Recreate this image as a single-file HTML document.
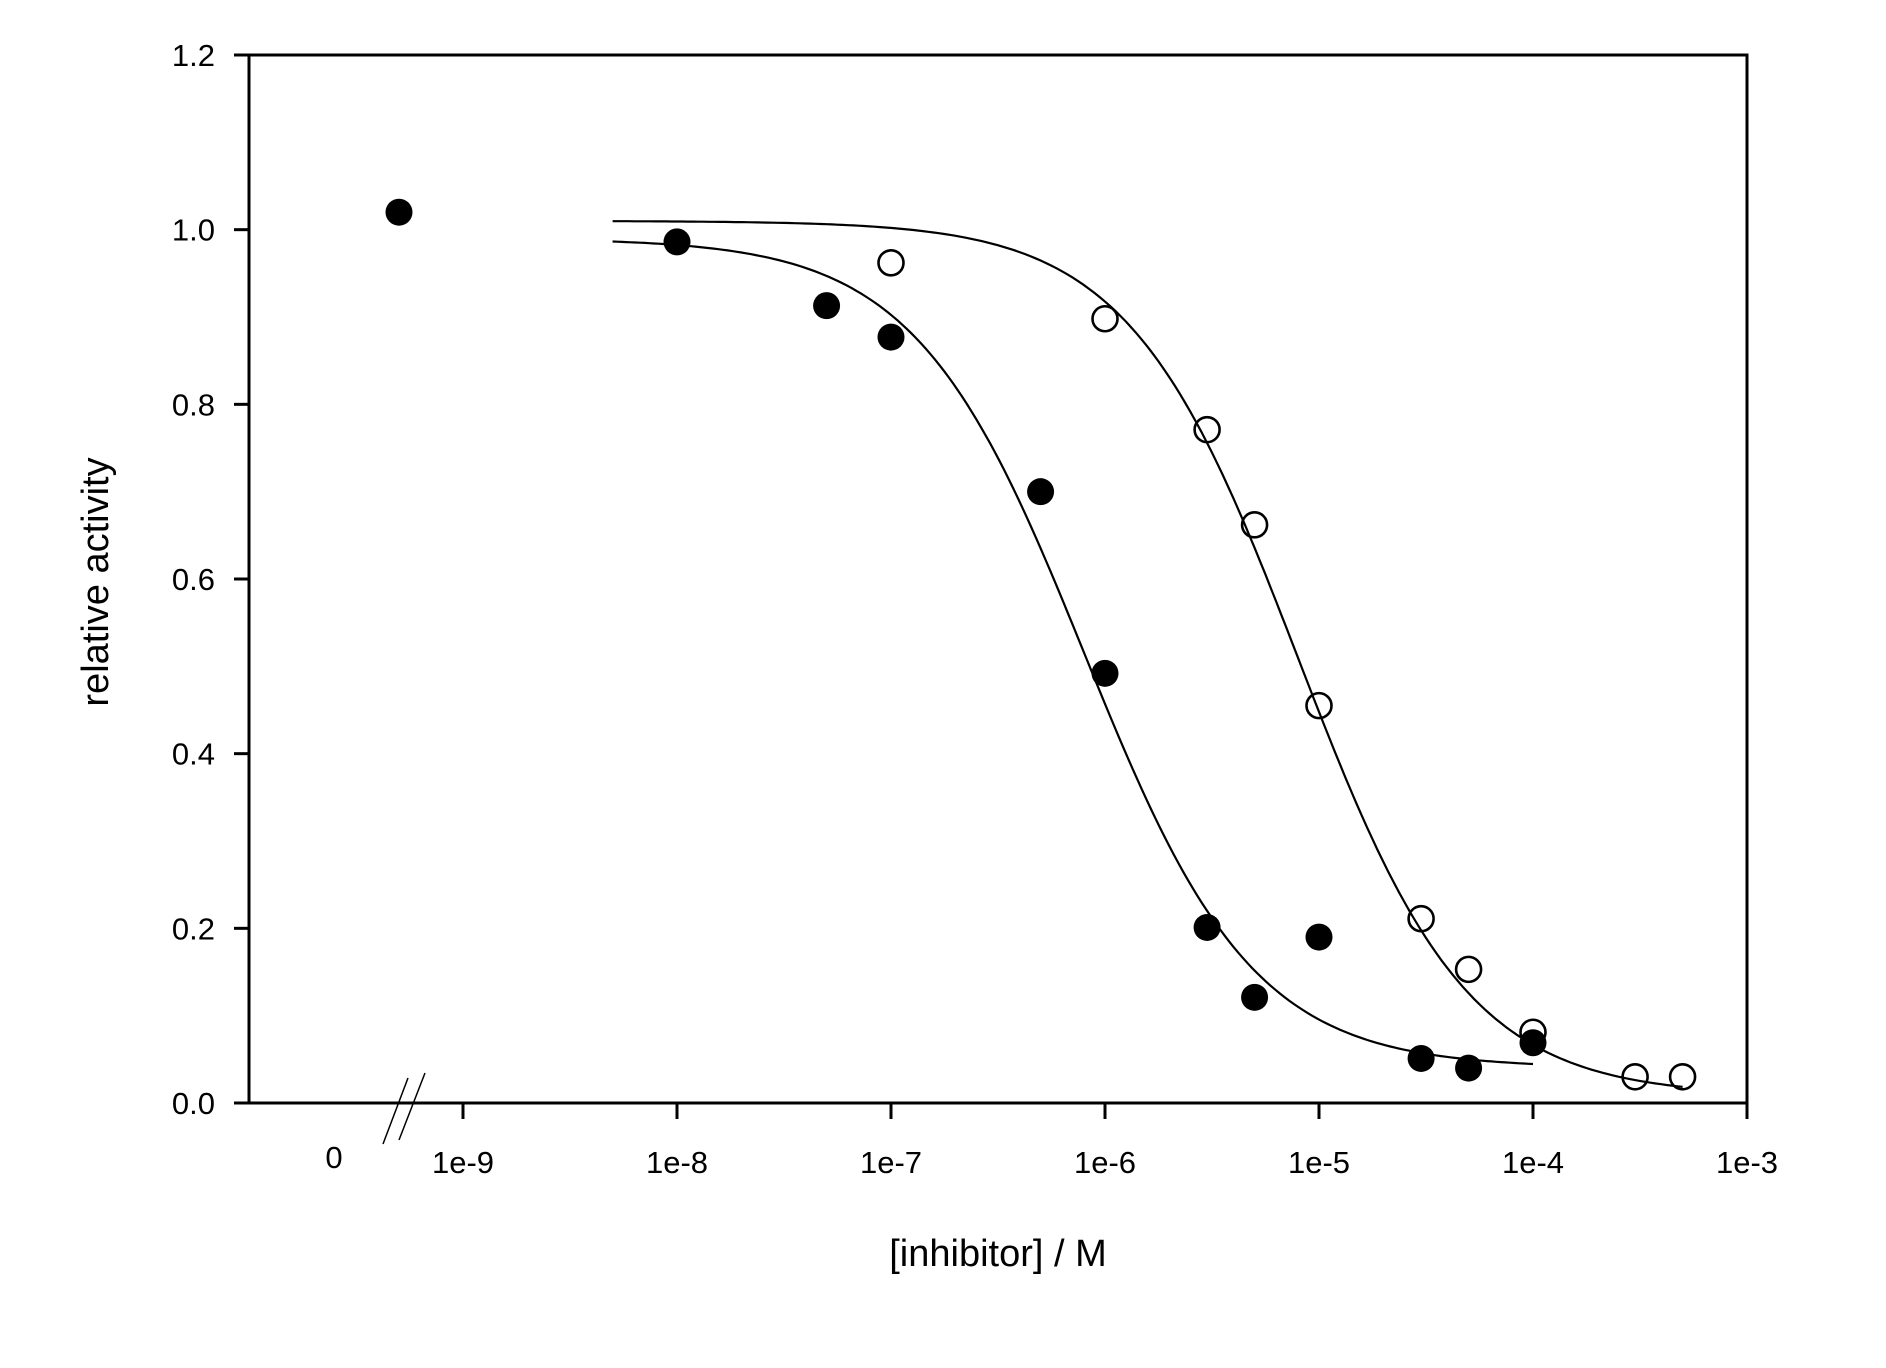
<!DOCTYPE html>
<html><head><meta charset="utf-8"><style>
html,body{margin:0;padding:0;background:#fff;}
svg{display:block;font-family:"Liberation Sans",Arial,sans-serif;}
</style></head><body>
<svg id="chart" width="1886" height="1368" viewBox="0 0 1886 1368" xmlns="http://www.w3.org/2000/svg">
<rect width="1886" height="1368" fill="#fff"/>
<g id="axes"></g>
<g id="curves"></g>
<g id="points"></g>
<text x="0" y="0" font-size="38" text-anchor="middle" transform="translate(108,582) rotate(-90)">relative activity</text>
<text x="998" y="1266" font-size="38" text-anchor="middle">[inhibitor] / M</text>
</svg>
<script>
const yTicks = [0.0, 0.2, 0.4, 0.6, 0.8, 1.0, 1.2];
const yTickLabels = ["0.0","0.2","0.4","0.6","0.8","1.0","1.2"];
const xTickExps = [-9, -8, -7, -6, -5, -4, -3];
const xTickLabels = ["1e-9","1e-8","1e-7","1e-6","1e-5","1e-4","1e-3"];
const zeroValueFilled = 1.02;
const filledConc = [1e-8, 5e-8, 1e-7, 5e-7, 1e-6, 3e-6, 5e-6, 1e-5, 3e-5, 5e-5, 1e-4];
const filledAct  = [0.986, 0.913, 0.877, 0.700, 0.492, 0.201, 0.121, 0.190, 0.051, 0.040, 0.069];
const openConc = [1e-7, 1e-6, 3e-6, 5e-6, 1e-5, 3e-5, 5e-5, 1e-4, 3e-4, 5e-4];
const openAct  = [0.962, 0.898, 0.771, 0.662, 0.455, 0.211, 0.153, 0.081, 0.030, 0.030];
// fit params: [top, bottom, ic50, hill, xStart, xEnd]
const filledFit = [0.99, 0.04, 8e-7, 1.1, 5e-9, 1e-4];
const openFit = [1.01, 0.008, 8e-6, 1.1, 5e-9, 5e-4];

const NS = "http://www.w3.org/2000/svg";
const X0 = 249, X1 = 1747, Y0 = 1103, Y1 = 55;
const DEC = 214, XREF = 463;
function xs(c){ return XREF + DEC*(Math.log10(c)+9); }
function ys(v){ return Y0 - (Y0-Y1)*v/1.2; }
function mk(tag, attrs, parent){ const e=document.createElementNS(NS,tag); for(const k in attrs) e.setAttribute(k,attrs[k]); parent.appendChild(e); return e; }
const axes=document.getElementById('axes');
const box = mk('rect',{x:X0,y:Y1,width:X1-X0,height:Y0-Y1,fill:'none',stroke:'#000','stroke-width':3},axes);


yTicks.forEach((v,i)=>{
  const t=mk('line',{x1:234,x2:X0,y1:ys(v),y2:ys(v),stroke:'#000','stroke-width':3},axes);
  
  
  const l=mk('text',{x:215,y:ys(v)+11,'font-size':31,'text-anchor':'end'},axes);
  l.textContent=yTickLabels[i];
  
  
});
xTickExps.forEach((e,i)=>{
  const x=xs(Math.pow(10,e));
  const t=mk('line',{x1:x,x2:x,y1:Y0,y2:1119,stroke:'#000','stroke-width':3},axes);
  
  
  const l=mk('text',{x:x,y:1173,'font-size':31,'text-anchor':'middle'},axes);
  l.textContent=xTickLabels[i];
  
  
});
const ext=mk('line',{x1:234,x2:X0,y1:Y0,y2:Y0,stroke:'#000','stroke-width':3},axes);


const z=mk('text',{x:334,y:1168,'font-size':31,'text-anchor':'middle'},axes);
z.textContent='0';


const b1=mk('line',{x1:383,y1:1144,x2:408,y2:1078,stroke:'#000','stroke-width':1.5},axes);


const b2=mk('line',{x1:399,y1:1140,x2:425,y2:1073,stroke:'#000','stroke-width':1.5},axes);



const curves=document.getElementById('curves');
function curve(p,name){
  const [top,bot,ic,h,a,b]=p; let d='';
  const la=Math.log10(a), lb=Math.log10(b);
  for(let i=0;i<=200;i++){ const lx=la+(lb-la)*i/200; const c=Math.pow(10,lx);
    const v=bot+(top-bot)/(1+Math.pow(c/ic,h)); d+=(i?'L':'M')+xs(c).toFixed(1)+' '+ys(v).toFixed(1); }
  const pth=mk('path',{d:d,fill:'none',stroke:'#000','stroke-width':2.2},curves);
  
  
}
curve(filledFit,'fit-curve-filled');
curve(openFit,'fit-curve-open');

const pts=document.getElementById('points');
const zp=mk('circle',{cx:399,cy:ys(zeroValueFilled),r:13.5,fill:'#000'},pts);


filledConc.forEach((c,i)=>{
  const e=mk('circle',{cx:xs(c),cy:ys(filledAct[i]),r:13.5,fill:'#000'},pts);
  
  
});
openConc.forEach((c,i)=>{
  const e=mk('circle',{cx:xs(c),cy:ys(openAct[i]),r:12.5,fill:'none',stroke:'#000','stroke-width':2.6},pts);
  
  
});
</script>
</body></html>
